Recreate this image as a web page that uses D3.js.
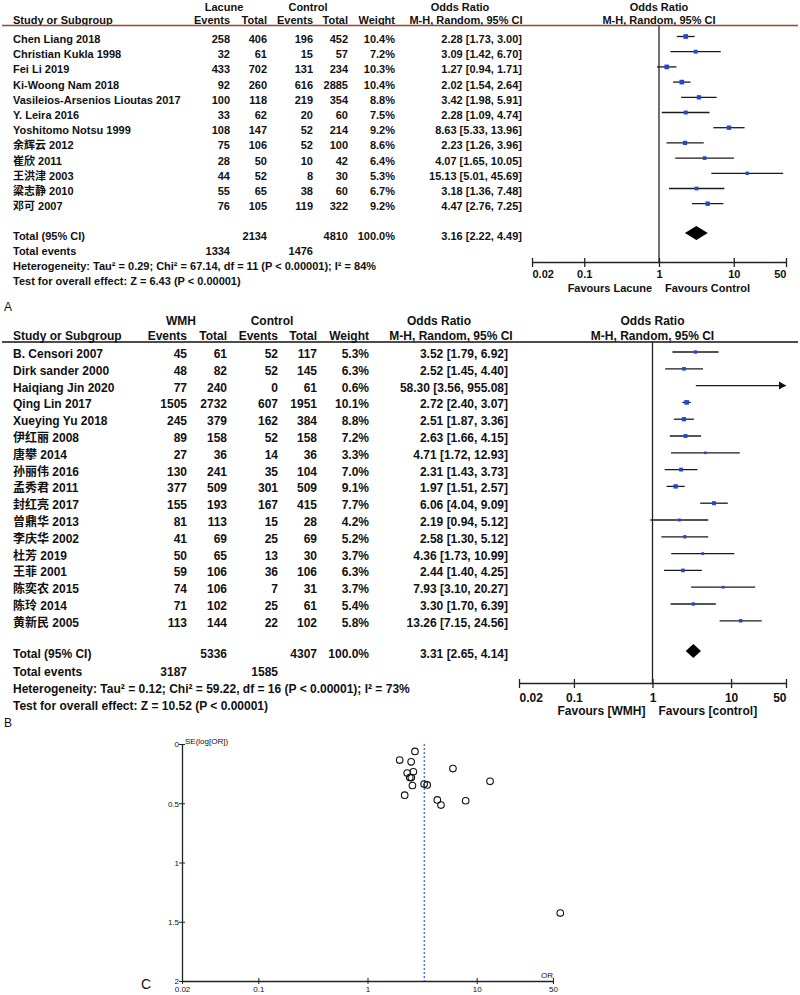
<!DOCTYPE html>
<html>
<head>
<meta charset="utf-8">
<script src="https://cdn.jsdelivr.net/npm/d3@7"></script>
<style>
body { margin: 0; background: #fff; }
svg { display: block; font-family: "Liberation Sans", Arial, "Noto Sans CJK SC", sans-serif; }
</style>
</head>
<body>
<div id="chart"></div>
<script>
// ---- panel A : lacune vs control
var studiesA = ["Chen Liang 2018", "Christian Kukla 1998", "Fei Li 2019", "Ki-Woong Nam 2018",
	"Vasileios-Arsenios Lioutas 2017", "Y. Leira 2016", "Yoshitomo Notsu 1999", "余辉云 2012",
	"崔欣 2011", "王洪津 2003", "粱志静 2010", "邓可 2007"];
var eventsA1 = [258, 32, 433, 92, 100, 33, 108, 75, 28, 44, 55, 76];
var totalA1 = [406, 61, 702, 260, 118, 62, 147, 106, 50, 52, 65, 105];
var eventsA2 = [196, 15, 131, 616, 219, 20, 52, 52, 10, 8, 38, 119];
var totalA2 = [452, 57, 234, 2885, 354, 60, 214, 100, 42, 30, 60, 322];
var weightA = [10.4, 7.2, 10.3, 10.4, 8.8, 7.5, 9.2, 8.6, 6.4, 5.3, 6.7, 9.2];
var orA = [2.28, 3.09, 1.27, 2.02, 3.42, 2.28, 8.63, 2.23, 4.07, 15.13, 3.18, 4.47];
var loA = [1.73, 1.42, 0.94, 1.54, 1.98, 1.09, 5.33, 1.26, 1.65, 5.01, 1.36, 2.76];
var hiA = [3.00, 6.70, 1.71, 2.64, 5.91, 4.74, 13.96, 3.96, 10.05, 45.69, 7.48, 7.25];
var pooledA = [3.16, 2.22, 4.49];          // OR, lower, upper
var totalsA = [1334, 2134, 1476, 4810];    // events1, total1, events2, total2
var hetA = "Heterogeneity: Tau² = 0.29; Chi² = 67.14, df = 11 (P < 0.00001); I² = 84%";
var testA = "Test for overall effect: Z = 6.43 (P < 0.00001)";

// ---- panel B : WMH vs control
var studiesB = ["B. Censori 2007", "Dirk sander 2000", "Haiqiang Jin 2020", "Qing Lin 2017",
	"Xueying Yu 2018", "伊红丽 2008", "唐攀 2014", "孙丽伟 2016", "孟秀君 2011", "封红亮 2017",
	"曾鼎华 2013", "李庆华 2002", "杜芳 2019", "王菲 2001", "陈奕农 2015", "陈玲 2014", "黄新民 2005"];
var eventsB1 = [45, 48, 77, 1505, 245, 89, 27, 130, 377, 155, 81, 41, 50, 59, 74, 71, 113];
var totalB1 = [61, 82, 240, 2732, 379, 158, 36, 241, 509, 193, 113, 69, 65, 106, 106, 102, 144];
var eventsB2 = [52, 52, 0, 607, 162, 52, 14, 35, 301, 167, 15, 25, 13, 36, 7, 25, 22];
var totalB2 = [117, 145, 61, 1951, 384, 158, 36, 104, 509, 415, 28, 69, 30, 106, 31, 61, 102];
var weightB = [5.3, 6.3, 0.6, 10.1, 8.8, 7.2, 3.3, 7.0, 9.1, 7.7, 4.2, 5.2, 3.7, 6.3, 3.7, 5.4, 5.8];
var orB = [3.52, 2.52, 58.30, 2.72, 2.51, 2.63, 4.71, 2.31, 1.97, 6.06, 2.19, 2.58, 4.36, 2.44, 7.93, 3.30, 13.26];
var loB = [1.79, 1.45, 3.56, 2.40, 1.87, 1.66, 1.72, 1.43, 1.51, 4.04, 0.94, 1.30, 1.73, 1.40, 3.10, 1.70, 7.15];
var hiB = [6.92, 4.40, 955.08, 3.07, 3.36, 4.15, 12.93, 3.73, 2.57, 9.09, 5.12, 5.12, 10.99, 4.25, 20.27, 6.39, 24.56];
var pooledB = [3.31, 2.65, 4.14];
var totalsB = [3187, 5336, 1585, 4307];
var hetB = "Heterogeneity: Tau² = 0.12; Chi² = 59.22, df = 16 (P < 0.00001); I² = 73%";
var testB = "Test for overall effect: Z = 10.52 (P < 0.00001)";

// ---- panel C : funnel plot (OR, SE(log OR))
var funnelOR = [3.52, 2.52, 58.3, 2.72, 2.51, 2.63, 4.71, 2.31, 1.97, 6.06, 2.19, 2.58, 4.36, 2.44, 7.93, 3.30, 13.26];
var funnelSE = [0.345, 0.283, 1.427, 0.063, 0.150, 0.234, 0.515, 0.245, 0.136, 0.207, 0.432, 0.350, 0.472, 0.283, 0.479, 0.338, 0.315];
var funnelPooled = 3.31;
var seTicks = [0, 0.5, 1, 1.5, 2];

var axisTicks = [0.02, 0.1, 1, 10, 50];

var svg = d3.select("#chart").append("svg").attr("width", 800).attr("height", 995);

function drawForest(d, g) {
	var x = d3.scaleLog().domain([0.02, 50]).range([g.x0, g.x1]);
	var rowY = function (i) {return g.row0 + i * g.rowH;};
	var f = svg.append("g").attr("font-size", g.fs).attr("font-weight", "bold").attr("fill", "#111");

	function txt(s, px, py, anchor) {
		f.append("text").attr("x", px).attr("y", py).attr("text-anchor", anchor || "start").text(s);
	}

	// headers
	txt(d.grp, g.grp1, g.h1, "middle");
	txt("Control", g.grp2, g.h1, "middle");
	txt("Odds Ratio", g.orHdr1, g.h1, "middle");
	txt("Odds Ratio", x(1), g.h1, "middle");
	txt("Study or Subgroup", 13, g.h2);
	txt("Events", g.cE1, g.h2, "end");
	txt("Total", g.cT1, g.h2, "end");
	txt("Events", g.cE2, g.h2, "end");
	txt("Total", g.cT2, g.h2, "end");
	txt("Weight", g.cW, g.h2, "end");
	txt("M-H, Random, 95% CI", g.orHdr2, g.h2, "middle");
	txt("M-H, Random, 95% CI", x(1), g.h2, "middle");

	svg.append("line").attr("x1", 2).attr("x2", 798).attr("y1", g.lineY).attr("y2", g.lineY)
		.attr("stroke", g.lineColor).attr("stroke-width", 1.3);

	// study rows
	d.study.forEach(function (s, i) {
		var y = rowY(i);
		txt(s, 13, y);
		txt(d.e1[i], g.cE1, y, "end");
		txt(d.t1[i], g.cT1, y, "end");
		txt(d.e2[i], g.cE2, y, "end");
		txt(d.t2[i], g.cT2, y, "end");
		txt(d.w[i].toFixed(1) + "%", g.cW, y, "end");
		txt(d.or[i].toFixed(2) + " [" + d.lo[i].toFixed(2) + ", " + d.hi[i].toFixed(2) + "]", g.cOR, y, "end");
	});

	// vertical line of no effect
	svg.append("line").attr("x1", x(1)).attr("x2", x(1)).attr("y1", g.lineY).attr("y2", g.axisY)
		.attr("stroke", "#222").attr("stroke-width", 1.3);

	// CI lines
	var ci = svg.append("g");
	d.study.forEach(function (s, i) {
		var y = rowY(i) - g.mk;
		var hi = Math.min(d.hi[i], 50);
		ci.append("line").attr("x1", x(Math.max(d.lo[i], 0.02))).attr("x2", x(hi))
			.attr("y1", y).attr("y2", y).attr("stroke", "#1a1a1a").attr("stroke-width", 1.3);
		if (d.hi[i] > 50) {
			var ax = x(50);
			ci.append("path").attr("d", "M" + (ax - 7) + "," + (y - 4) + "L" + ax + "," + y + "L" + (ax - 7) + "," + (y + 4) + "Z")
				.attr("fill", "#111");
		} else {
			var side = Math.max(2, Math.sqrt(d.w[i]) * 1.45);
			ci.append("rect").attr("x", x(d.or[i]) - side / 2).attr("y", y - side / 2)
				.attr("width", side).attr("height", side).attr("fill", "#2447cc");
		}
	});

	// totals
	var ty = g.totY;
	txt("Total (95% CI)", 13, ty);
	txt(d.tot[1], g.cT1, ty, "end");
	txt(d.tot[3], g.cT2, ty, "end");
	txt("100.0%", g.cW, ty, "end");
	txt(d.pooled[0].toFixed(2) + " [" + d.pooled[1].toFixed(2) + ", " + d.pooled[2].toFixed(2) + "]", g.cOR, ty, "end");
	txt("Total events", 13, g.evY);
	txt(d.tot[0], g.cE1, g.evY, "end");
	txt(d.tot[2], g.cE2, g.evY, "end");
	txt(d.het, 13, g.hetY);
	txt(d.test, 13, g.testY);

	var dy = ty - 7;
	svg.append("path")
		.attr("d", "M" + x(d.pooled[1]) + "," + dy + "L" + x(d.pooled[0]) + "," + (dy - 7) +
			"L" + x(d.pooled[2]) + "," + dy + "L" + x(d.pooled[0]) + "," + (dy + 7) + "Z")
		.attr("fill", "#000");

	// axis
	var axis = d3.axisBottom(x).tickValues(axisTicks).tickFormat(function (v) {return String(v);}).tickSizeOuter(0);
	var ag = svg.append("g").attr("transform", "translate(0," + g.axisY + ")").call(axis);
	ag.select(".domain").attr("stroke", "#222").attr("stroke-width", 1.3);
	ag.selectAll(".tick line").attr("y1", -4).attr("y2", 5).attr("stroke", "#222").attr("stroke-width", 1.3);
	ag.selectAll(".tick text").attr("y", g.tickDy).attr("dy", 0).attr("font-size", g.fs)
		.attr("font-weight", "bold").attr("fill", "#111")
		.attr("font-family", "Liberation Sans, Arial, sans-serif")
		.attr("text-anchor", function (v, i) {return i === 0 ? "start" : i === 4 ? "end" : "middle";});

	txt(d.favL, x(1) - 7, g.axisY + g.favDy, "end");
	txt(d.favR, x(1) + 6, g.axisY + g.favDy, "start");
}

drawForest({
	grp: "Lacune", study: studiesA, e1: eventsA1, t1: totalA1, e2: eventsA2, t2: totalA2, w: weightA,
	or: orA, lo: loA, hi: hiA, pooled: pooledA, tot: totalsA, het: hetA, test: testA,
	favL: "Favours Lacune", favR: "Favours Control"
}, {
	fs: 11, h1: 11, h2: 24, lineY: 25.5, row0: 43, rowH: 15.2, mk: 6.5,
	totY: 240, evY: 255, hetY: 270, testY: 285, axisY: 262, tickDy: 16, favDy: 30,
	cE1: 230, cT1: 267, cE2: 313, cT2: 348, cW: 395, cOR: 522,
	grp1: 224, grp2: 308, orHdr1: 460, orHdr2: 466, x0: 532, x1: 786, lineColor: "#9a4a2c"
});

drawForest({
	grp: "WMH", study: studiesB, e1: eventsB1, t1: totalB1, e2: eventsB2, t2: totalB2, w: weightB,
	or: orB, lo: loB, hi: hiB, pooled: pooledB, tot: totalsB, het: hetB, test: testB,
	favL: "Favours [WMH]", favR: "Favours [control]"
}, {
	fs: 12, h1: 325, h2: 340, lineY: 342, row0: 358, rowH: 16.8, mk: 6,
	totY: 658, evY: 676, hetY: 693, testY: 710, axisY: 683, tickDy: 19, favDy: 32,
	cE1: 187, cT1: 227, cE2: 278, cT2: 317, cW: 369, cOR: 508,
	grp1: 181, grp2: 272, orHdr1: 439, orHdr2: 451, x0: 519, x1: 786, lineColor: "#111"
});

// panel letters
svg.append("text").attr("x", 4).attr("y", 311).attr("font-size", 12).attr("fill", "#111").text("A");
svg.append("text").attr("x", 4).attr("y", 727).attr("font-size", 12).attr("fill", "#111").text("B");
svg.append("text").attr("x", 141).attr("y", 989).attr("font-size", 14).attr("fill", "#111").text("C");

// ---- funnel plot
var fx = d3.scaleLog().domain([0.02, 50]).range([182, 553]);
var fy = d3.scaleLinear().domain([0, 2]).range([744, 981]);
var fg = svg.append("g");

var yAx = d3.axisLeft(fy).tickValues(seTicks).tickFormat(function (v) {return String(v);}).tickSizeOuter(0);
var yg = fg.append("g").attr("transform", "translate(182,0)").call(yAx);
yg.select(".domain").attr("stroke", "#222").attr("stroke-width", 1.3);
yg.selectAll(".tick line").attr("x1", -3).attr("x2", 3).attr("stroke", "#222");
yg.selectAll(".tick text").attr("x", -3).attr("dy", "0.35em").attr("font-size", 8).attr("fill", "#111")
	.attr("font-family", "Liberation Sans, Arial, sans-serif");

var xAx = d3.axisBottom(fx).tickValues(axisTicks).tickFormat(function (v) {return String(v);}).tickSizeOuter(0);
var xg = fg.append("g").attr("transform", "translate(0,981)").call(xAx);
xg.select(".domain").attr("stroke", "#222").attr("stroke-width", 1.3);
xg.selectAll(".tick line").attr("y1", -3).attr("y2", 3).attr("stroke", "#222");
xg.selectAll(".tick text").attr("y", 5).attr("dy", "0.71em").attr("font-size", 8).attr("fill", "#111")
	.attr("font-family", "Liberation Sans, Arial, sans-serif");

fg.append("text").attr("x", 185).attr("y", 744).attr("font-size", 8).attr("fill", "#111").text("SE(log[OR])");
fg.append("text").attr("x", 541).attr("y", 978).attr("font-size", 8).attr("fill", "#111").text("OR");

fg.append("line").attr("x1", fx(funnelPooled)).attr("x2", fx(funnelPooled)).attr("y1", fy(0)).attr("y2", fy(2))
	.attr("stroke", "#2f5de0").attr("stroke-width", 1.2).attr("stroke-dasharray", "2,2");

fg.selectAll("circle").data(funnelOR).enter().append("circle")
	.attr("cx", function (d) {return fx(d);})
	.attr("cy", function (d, i) {return fy(funnelSE[i]);})
	.attr("r", 3.3).attr("fill", "none").attr("stroke", "#111").attr("stroke-width", 1.1);
</script>
</body>
</html>
